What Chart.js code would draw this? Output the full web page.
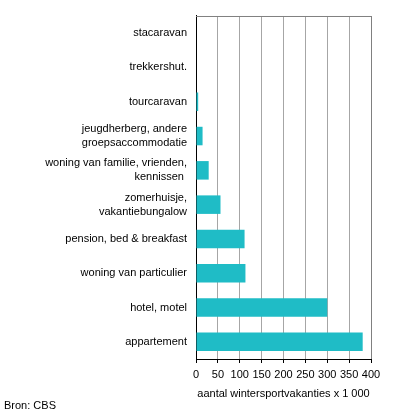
<!DOCTYPE html>
<html>
<head>
<meta charset="utf-8">
<script src="https://cdn.jsdelivr.net/npm/chart.js@4/dist/chart.umd.min.js"></script>
<style>
  html, body { margin: 0; padding: 0; background: #fff; }
  #wrap { width: 396px; height: 418px; position: relative; }
</style>
</head>
<body>
<div id="wrap"><canvas id="vakantieChart"></canvas></div>
<script>
// Accommodatie bij wintersportvakanties
const categories = [
    "stacaravan",
    "trekkershut.",
    "tourcaravan",
    ["jeugdherberg, andere", "groepsaccommodatie"],
    ["woning van familie, vrienden,", "kennissen "],
    ["zomerhuisje,", "vakantiebungalow"],
    "pension, bed & breakfast",
    "woning van particulier",
    "hotel, motel",
    "appartement"
];
const vakanties = [0, 0, 5, 15, 29, 56, 111, 113, 300, 381];
const xTicks = [0, 50, 100, 150, 200, 250, 300, 350, 400];

const font = { family: "'Liberation Sans', Arial, sans-serif", size: 11, lineHeight: 1.27 };

// bovenrand van het plotvlak en bronvermelding
const frame = {
    id: "frame",
    afterDraw(chart) {
        const { ctx, chartArea } = chart;
        ctx.save();
        ctx.strokeStyle = "#808080";
        ctx.lineWidth = 1;
        ctx.beginPath();
        ctx.moveTo(chartArea.left, chartArea.top + 0.5);
        ctx.lineTo(chartArea.right + 0.5, chartArea.top + 0.5);
        ctx.stroke();
        ctx.fillStyle = "#000";
        ctx.font = "11px " + font.family;
        ctx.textBaseline = "middle";
        ctx.fillText("Bron: CBS", 4, 406);
        ctx.restore();
    }
};

new Chart(document.getElementById("vakantieChart"), {
    type: "bar",
    data: {
        labels: categories,
        datasets: [{
            data: vakanties,
            backgroundColor: "#1fbcc6",
            barPercentage: 0.54,
            categoryPercentage: 1
        }]
    },
    options: {
        indexAxis: "y",
        responsive: true,
        maintainAspectRatio: false,
        animation: false,
        layout: { padding: { top: 5, right: 25, left: 0, bottom: 0 } },
        plugins: {
            legend: { display: false },
            tooltip: { enabled: false }
        },
        scales: {
            x: {
                min: 0,
                max: 400,
                afterBuildTicks(scale) {
                    scale.ticks = xTicks.map(v => ({ value: v }));
                },
                grid: {
                    color: ctx => ctx.tick && ctx.tick.value === 400 ? "#808080" : "#a6a6a6",
                    tickColor: "#000",
                    tickLength: 4,
                    lineWidth: 1
                },
                border: { color: "#000", width: 1 },
                ticks: { color: "#000", font: font, padding: 5, maxRotation: 0, autoSkip: false },
                title: {
                    display: true,
                    text: "aantal wintersportvakanties x 1 000",
                    color: "#000",
                    font: font,
                    padding: { top: 5, bottom: 17 }
                },
                afterFit(scale) { scale.height = 59; }
            },
            y: {
                grid: { display: false, drawTicks: false },
                border: { color: "#000", width: 1 },
                ticks: { color: "#000", font: font, padding: 9, autoSkip: false },
                afterFit(scale) { scale.width = 196; }
            }
        }
    },
    plugins: [frame]
});
</script>
</body>
</html>
